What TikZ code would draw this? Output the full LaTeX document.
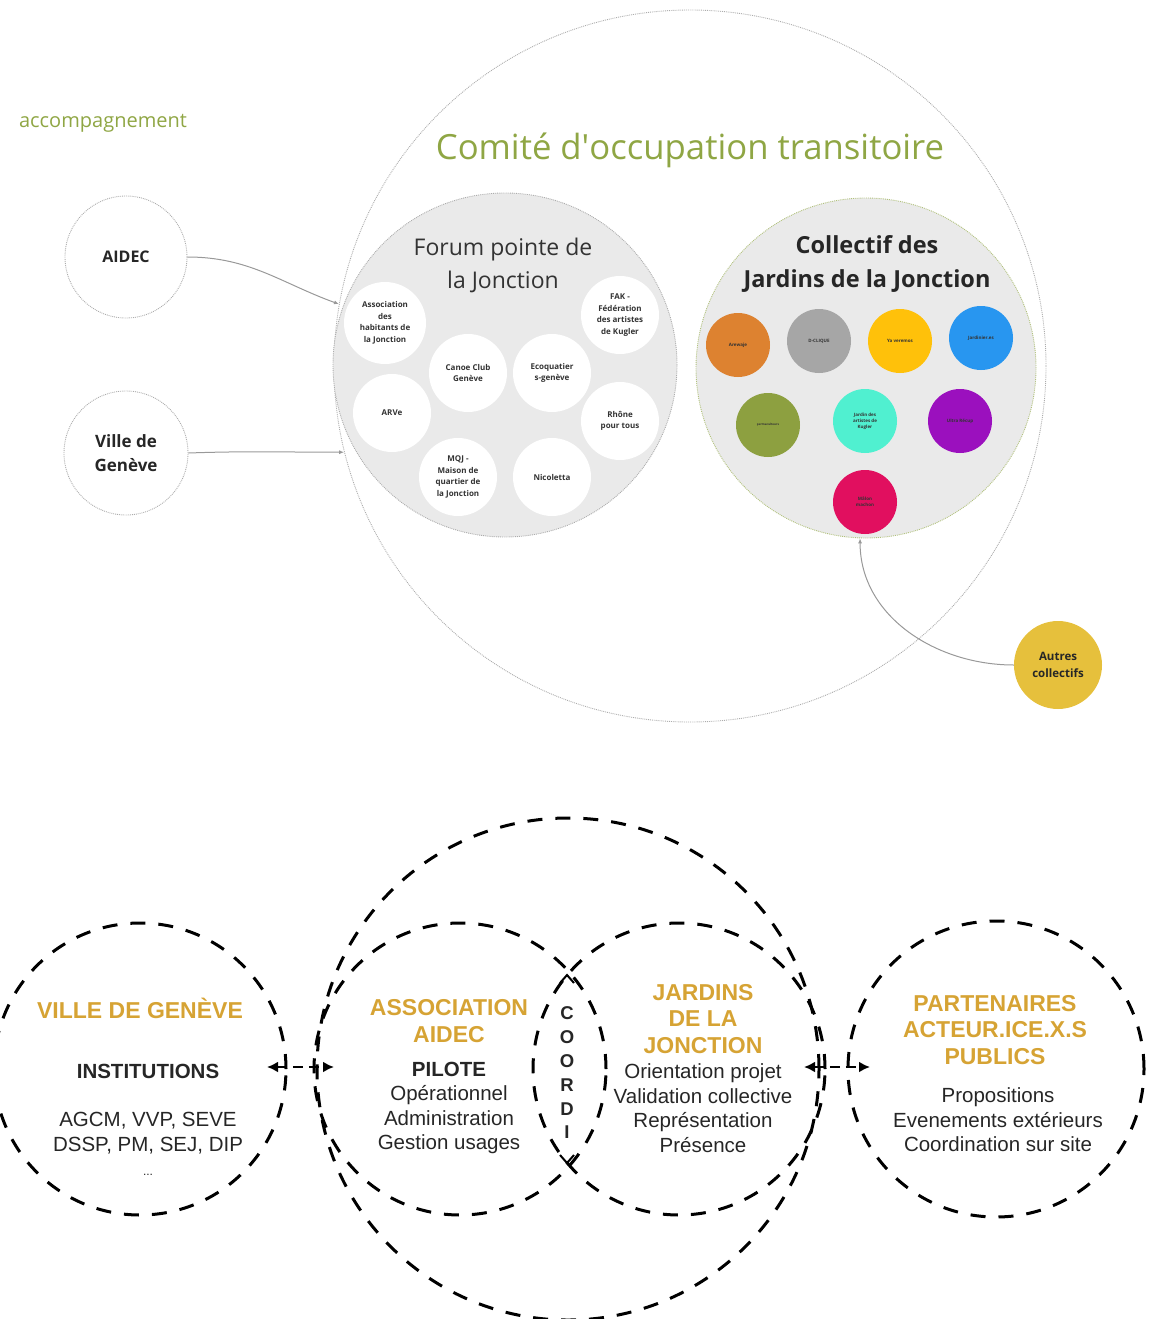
\documentclass[tikz,border=0pt]{standalone}
\usepackage{fontspec}
\setmainfont{Open Sans}
\newfontfamily\arialf{Liberation Sans}
\usetikzlibrary{arrows.meta}
\usetikzlibrary{calc}
\usepackage{xcolor}
\definecolor{olivetitle}{RGB}{143,166,68}
\definecolor{forumgray}{RGB}{234,234,234}
\definecolor{goldtxt}{RGB}{214,163,52}
\definecolor{cOrange}{RGB}{221,130,48}
\definecolor{cGris}{RGB}{166,166,166}
\definecolor{cJaune}{RGB}{255,193,10}
\definecolor{cBleu}{RGB}{40,150,240}
\definecolor{cOlive}{RGB}{141,160,64}
\definecolor{cTurq}{RGB}{80,240,208}
\definecolor{cViolet}{RGB}{155,16,190}
\definecolor{cMagenta}{RGB}{225,15,95}
\definecolor{cAutres}{RGB}{230,192,60}

\begin{document}
\begin{tikzpicture}[x=1pt, y=1pt]
        % ================= 样式定义 =================
        \tikzset{
            % 点线圆圈
            ring/.style={circle, draw=gray!65, densely dotted, line width=0.9pt, inner sep=0pt},
            % 论坛成员:白色小圆
            member/.style={circle, fill=white, minimum size=78pt, inner sep=0pt, align=center,
                font=\bfseries\fontsize{8}{11.5}\selectfont, text=black!80},
            % 花园集体:彩色小圆
            jardin/.style={circle, minimum size=64pt, inner sep=0pt, align=center,
                font=\bfseries\fontsize{4.5}{6}\selectfont, text=black!80},
            % 灰色连线
            edge/.style={gray!80, line width=1pt, -{Latex[length=5pt,width=4pt]}},
            % 下方虚线大圆
            dring/.style={circle, draw=black, line width=3pt, dash pattern=on 15pt off 13pt,
                minimum size=292pt, inner sep=0pt},
            % 金色标题
            goldt/.style={text=goldtxt, align=center, font=\arialf\bfseries\fontsize{23}{26.5}\selectfont},
            % 正文
            body/.style={align=center, text=black!85, font=\arialf\fontsize{20.5}{24.5}\selectfont},
            % 双向虚线箭头
            dblarrow/.style={line width=2.2pt, dash pattern=on 10pt off 6pt,
                {Latex[length=11pt,width=11pt]}-{Latex[length=11pt,width=11pt]}},
            chev/.style={line width=2pt}
        }

        \useasboundingbox (0,0) rectangle (1154,-1319);

        % ================= 第一部分:过渡占用委员会 (上) =================
        \node[ring, minimum size=712pt] (comite) at (690,-366) {};
        \node[text=olivetitle, font=\fontsize{34.7}{40}\selectfont] (titre) at (690,-150) {Comité d\textquotesingle occupation transitoire};
        \node[text=olivetitle, font=\fontsize{20}{24}\selectfont] (accomp) at (103,-123) {accompagnement};

        % 陪伴方
        \node[ring, minimum size=122pt, font=\bfseries\fontsize{16}{22}\selectfont, text=black!85] (aidec) at (126,-257) {AIDEC};
        \node[ring, minimum size=124pt, align=center, font=\bfseries\fontsize{17}{24}\selectfont, text=black!85] (ville) at (126,-453) {Ville de\\Genève};
        \draw[edge] (aidec.east) to[out=0,in=160] (comite.170);
        \draw[edge] (ville.east) to[out=2,in=180] (comite.194);

        % --- 论坛 ---
        \node[ring, fill=forumgray, minimum size=344pt] (forum) at (505,-365) {};
        \node[align=center, text=black!80, font=\fontsize{23}{33}\selectfont] (forumt) at (503,-265) {Forum pointe de\\la Jonction};
        \node[member, minimum size=82pt] (ahj) at (385,-323) {Association\\des\\habitants de\\la Jonction};
        \node[member] (fak) at (620,-315) {FAK -\\Fédération\\des artistes\\de Kugler};
        \node[member] (canoe) at (468,-373) {Canoe Club\\Genève};
        \node[member] (eco) at (552,-373) {Ecoquatier\\s-genève};
        \node[member] (arve) at (392,-413) {ARVe};
        \node[member] (rhone) at (620,-421) {Rhône\\pour tous};
        \node[member] (mqj) at (458,-477) {MQJ -\\Maison de\\quartier de\\la Jonction};
        \node[member] (nico) at (552,-477) {Nicoletta};

        % --- 花园集体 ---
        \node[ring, draw=olivetitle!70, fill=forumgray, minimum size=340pt] (collectif) at (866,-368) {};
        \node[align=center, text=black!85, font=\bfseries\fontsize{23.5}{34}\selectfont] (collt) at (867,-264) {Collectif des\\Jardins de la Jonction};
        \node[jardin, fill=cOrange] (arewaje) at (738,-345) {Arewaje};
        \node[jardin, fill=cGris] (dclique) at (819,-341) {D-CLIQUE};
        \node[jardin, fill=cJaune] (yaver) at (900,-341) {Ya veremos};
        \node[jardin, fill=cBleu] (jardinier) at (981,-338) {Jardinier.es};
        \node[jardin, fill=cOlive, font=\bfseries\fontsize{3}{4}\selectfont] (perma) at (768,-425) {permaculteurs};
        \node[jardin, fill=cTurq] (jak) at (865,-421) {Jardin des\\artistes de\\Kugler};
        \node[jardin, fill=cViolet] (ultra) at (960,-421) {Ultra Récup};
        \node[jardin, fill=cMagenta] (mach) at (865,-502) {Mâlon\\machon};

        % 其他集体
        \node[circle, fill=cAutres, minimum size=88pt, inner sep=0pt, align=center,
            font=\bfseries\fontsize{11.5}{17}\selectfont, text=black!85] (autres) at (1058,-665) {Autres\\collectifs};
        \draw[edge] (autres.west) to[out=180,in=-90] (collectif.-92);

        % ================= 第二部分:治理结构 (下) =================
        \node[dring, minimum size=502pt] (coord) at (568,-1069) {};
        \node[dring] (vg) at (140,-1069) {};
        \node[dring] (asso) at (460,-1069) {};
        \node[dring] (jdj) at (679,-1069) {};
        \node[dring, minimum size=296pt] (part) at (996,-1069) {};

        % 日内瓦市
        \node[goldt] (vgt) at (140,-1008) {VILLE DE GENÈVE};
        \node[body, font=\arialf\bfseries\fontsize{20.5}{24.5}\selectfont] (inst) at (148,-1071) {INSTITUTIONS};
        \node[body] (instl) at (148,-1144) {AGCM, VVP, SEVE\\DSSP, PM, SEJ, DIP\\{\fontsize{12}{24.5}\selectfont ...}};

        % AIDEC 协会
        \node[goldt] (assot) at (449,-1021) {ASSOCIATION\\AIDEC};
        \node[body] (assol) at (449,-1108) {\textbf{PILOTE}\\Opérationnel\\Administration\\Gestion usages};

        % 花园
        \node[goldt] (jdjt) at (703,-1019) {JARDINS\\DE LA\\JONCTION};
        \node[body] (jdjl) at (703,-1108) {Orientation projet\\Validation collective\\Représentation\\Présence};

        % 合作伙伴
        \node[goldt] (partt) at (995,-1030) {PARTENAIRES\\ACTEUR.ICE.X.S\\PUBLICS};
        \node[body] (partl) at (998,-1120) {Propositions\\Evenements extérieurs\\Coordination sur site};

        % 协调 (竖排)
        \node[align=center, text=black!85, font=\arialf\bfseries\fontsize{18.5}{23.8}\selectfont] (coordi) at (567,-1073) {C\\O\\O\\R\\D\\I};
        \coordinate (ctop) at (567,-975);
        \coordinate (cbot) at (567,-1163);
        \draw[chev] ($(ctop)+(-7,-8)$) -- (ctop) -- ($(ctop)+(7,-8)$);
        \draw[chev] ($(cbot)+(-7,8)$) -- (cbot) -- ($(cbot)+(7,8)$);

        % 双向箭头
        \coordinate (la) at (267,-1067);
        \coordinate (lb) at (334,-1067);
        \coordinate (ra) at (804,-1067);
        \coordinate (rb) at (870,-1067);
        \draw[dblarrow] (la) -- (lb);
        \draw[dblarrow] (ra) -- (rb);

\end{tikzpicture}
\end{document}
